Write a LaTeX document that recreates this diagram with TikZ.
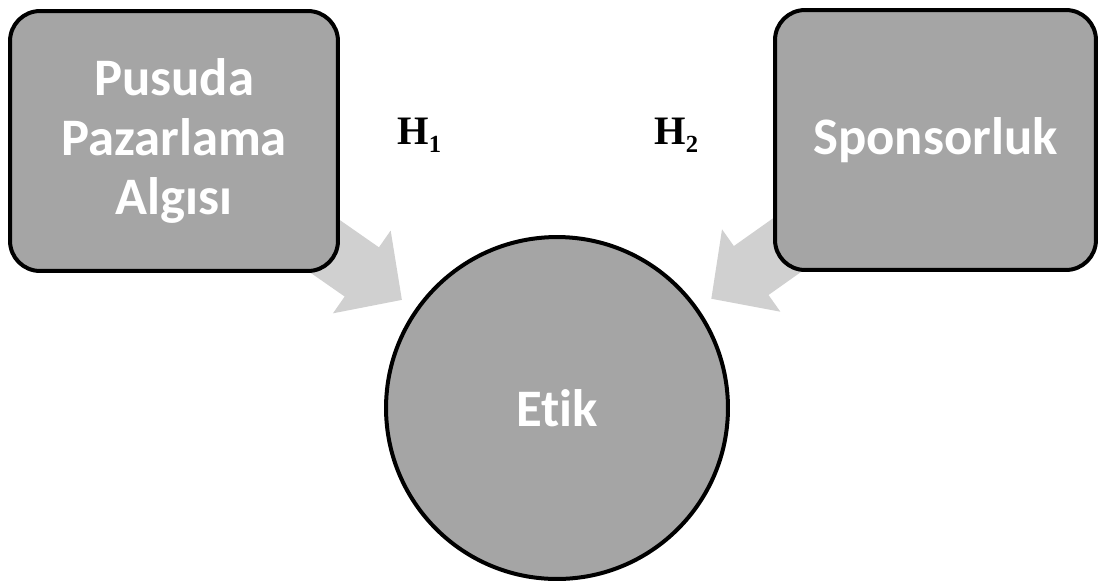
\documentclass[tikz,border=0pt]{standalone}
\usepackage{fontspec}
\setmainfont{Carlito}[Ligatures=NoCommon]
\newfontfamily\hypfont{Liberation Serif}
\usetikzlibrary{arrows.meta}
\pgfdeclarelayer{bg}
\pgfsetlayers{bg,main}
\definecolor{shapegray}{HTML}{A5A5A5}
\definecolor{arrowgray}{HTML}{D0D0D0}
\begin{document}
\begin{tikzpicture}[x=0.02cm, y=-0.02cm,
  conceptbox/.style={draw=black, line width=0.08cm, fill=shapegray,
    rounded corners=0.6cm, text=white, align=center, inner sep=0pt,
    font=\bfseries\fontsize{30}{34}\selectfont},
  outcome/.style={circle, draw=black, line width=0.08cm, fill=shapegray,
    text=white, inner sep=0pt, minimum size=6.84cm,
    font=\bfseries\fontsize{30}{34}\selectfont},
  blockarrow/.style={draw=arrowgray, line width=1.2cm,
    -{Triangle[length=0.98cm, width=1.96cm]}, shorten >=0.32cm},
  hyp/.style={inner sep=0pt, anchor=base west,
    font=\hypfont\bfseries\fontsize{23}{23}\selectfont}]
  \useasboundingbox (0,0) rectangle (1099,583);

  % concept shapes
  \node[conceptbox, minimum width=6.56cm, minimum height=5.2cm] (pp) at (174,141)
    {Pusuda\\Pazarlama\\Algısı};
  \node[conceptbox, minimum width=6.42cm, minimum height=5.2cm] (sp) at (935.5,140)
    {Sponsorluk};
  \node[outcome] (etik) at (557,408) {Etik};

  % block arrows behind the shapes
  \begin{pgfonlayer}{bg}
    \draw[blockarrow] (pp.center) -- (etik);
    \draw[blockarrow] (sp.center) -- (etik);
  \end{pgfonlayer}

  % hypothesis labels
  \node[hyp] (h1) at (397,144) {H\raisebox{-5pt}{\fontsize{14}{14}\selectfont 1}};
  \node[hyp] (h2) at (654,144) {H\raisebox{-5pt}{\fontsize{14}{14}\selectfont 2}};
\end{tikzpicture}
\end{document}
